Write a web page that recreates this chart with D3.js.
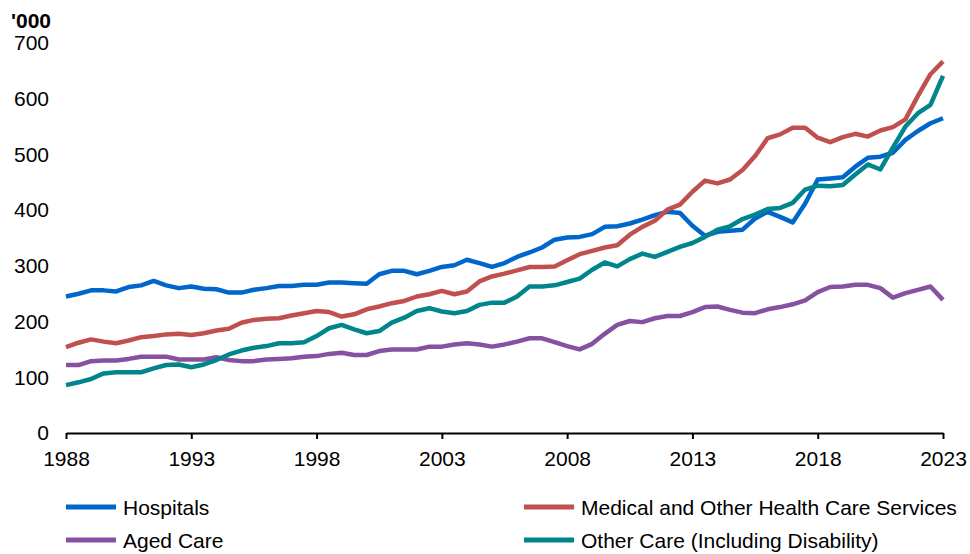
<!DOCTYPE html>
<html>
<head>
<meta charset="utf-8">
<script src="https://cdn.jsdelivr.net/npm/d3@7"></script>
<style>
  body { margin: 0; background: #fff; }
  svg { display: block; font-family: "Liberation Sans", Arial, sans-serif; }
</style>
</head>
<body>
<div id="chart"></div>
<script>
// half-yearly periods, 1988 to 2023
var periods = [1988, 1988.5, 1989, 1989.5, 1990, 1990.5, 1991, 1991.5, 1992, 1992.5,
  1993, 1993.5, 1994, 1994.5, 1995, 1995.5, 1996, 1996.5, 1997, 1997.5,
  1998, 1998.5, 1999, 1999.5, 2000, 2000.5, 2001, 2001.5, 2002, 2002.5,
  2003, 2003.5, 2004, 2004.5, 2005, 2005.5, 2006, 2006.5, 2007, 2007.5,
  2008, 2008.5, 2009, 2009.5, 2010, 2010.5, 2011, 2011.5, 2012, 2012.5,
  2013, 2013.5, 2014, 2014.5, 2015, 2015.5, 2016, 2016.5, 2017, 2017.5,
  2018, 2018.5, 2019, 2019.5, 2020, 2020.5, 2021, 2021.5, 2022, 2022.5, 2023];

var hospitals = [245, 250, 256, 256, 254, 262, 265, 273, 265, 260,
  263, 259, 258, 252, 252, 257, 260, 264, 264, 266,
  266, 270, 270, 269, 268, 285, 291, 291, 285, 291,
  298, 301, 311, 305, 298, 305, 316, 324, 333, 347,
  351, 352, 357, 370, 371, 376, 383, 391, 397, 395,
  372, 354, 361, 363, 365, 385, 397, 388, 378, 412,
  455, 457, 459, 478, 494, 496, 503, 526, 542, 556, 565];

var medical = [154, 162, 168, 164, 161, 166, 172, 174, 177, 178,
  176, 179, 184, 187, 198, 203, 205, 206, 211, 215,
  219, 217, 209, 213, 222, 227, 233, 237, 245, 249,
  255, 249, 254, 272, 281, 286, 292, 298, 298, 299,
  310, 321, 327, 333, 337, 356, 370, 381, 401, 410,
  433, 453, 448, 455, 472, 497, 529, 536, 548, 548,
  530, 522, 531, 537, 532, 543, 549, 563, 605, 644, 667];

var agedCare = [122, 122, 129, 130, 130, 133, 137, 137, 137, 132,
  132, 132, 136, 131, 129, 129, 132, 133, 134, 137,
  138, 142, 144, 140, 140, 147, 150, 150, 150, 155,
  155, 159, 161, 159, 155, 159, 164, 170, 170, 163,
  156, 150, 160, 178, 194, 201, 199, 206, 210, 210,
  217, 226, 227, 221, 216, 215, 222, 226, 231, 238,
  253, 262, 263, 266, 266, 260, 243, 251, 257, 263, 239];

var otherCare = [86, 91, 97, 107, 109, 109, 109, 116, 122, 123,
  118, 123, 131, 141, 148, 153, 156, 161, 161, 163,
  174, 188, 194, 186, 179, 183, 198, 207, 219, 224,
  218, 215, 219, 230, 234, 234, 245, 263, 263, 265,
  271, 277, 293, 306, 299, 312, 322, 316, 325, 334,
  341, 352, 365, 371, 384, 392, 402, 404, 413, 437,
  444, 443, 445, 464, 482, 473, 512, 550, 574, 589, 641];

var seriesNames = ["Hospitals", "Medical and Other Health Care Services",
  "Aged Care", "Other Care (Including Disability)"];
var seriesColors = ["#0066cc", "#c0504d", "#8651a1", "#00858c"];
var seriesValues = [hospitals, medical, agedCare, otherCare];

var xTicks = [1988, 1993, 1998, 2003, 2008, 2013, 2018, 2023];
var yTicks = [0, 100, 200, 300, 400, 500, 600, 700];

var svgWidth = 970, svgHeight = 554;
var margin = { top: 43, right: 27, bottom: 121, left: 66 };
var width = svgWidth - margin.left - margin.right;
var height = svgHeight - margin.top - margin.bottom;

var svg = d3.select("#chart").append("svg")
  .attr("width", svgWidth)
  .attr("height", svgHeight);

var chartGroup = svg.append("g")
  .attr("transform", `translate(${margin.left}, ${margin.top})`);

var xScale = d3.scaleLinear().domain([1988, 2023]).range([0, width]);
var yScale = d3.scaleLinear().domain([0, 700]).range([height, 0]);

// y axis: labels only, no line
var yAxis = d3.axisLeft(yScale).tickValues(yTicks).tickSize(0).tickPadding(17);
var yG = chartGroup.append("g").call(yAxis);
yG.select(".domain").remove();
yG.selectAll("text")
  .attr("font-size", 21)
  .attr("font-family", "'Liberation Sans', Arial, sans-serif")
  .attr("fill", "#000");

// x axis with ticks below line
var xAxis = d3.axisBottom(xScale).tickValues(xTicks).tickFormat(d3.format("d"))
  .tickSizeInner(6).tickSizeOuter(0).tickPadding(12);
var xG = chartGroup.append("g")
  .attr("transform", `translate(0, ${height})`)
  .call(xAxis);
xG.select(".domain").attr("stroke", "#000").attr("stroke-width", 2);
xG.selectAll(".tick line").attr("stroke", "#000").attr("stroke-width", 2);
xG.selectAll("text")
  .attr("font-size", 21)
  .attr("font-family", "'Liberation Sans', Arial, sans-serif")
  .attr("fill", "#000");

// unit label
svg.append("text")
  .attr("x", 51)
  .attr("y", 28)
  .attr("text-anchor", "end")
  .attr("font-size", 21)
  .attr("font-weight", "bold")
  .text("'000");

// lines
var line = d3.line()
  .x((d, i) => xScale(periods[i]))
  .y(d => yScale(d));

chartGroup.selectAll(".series")
  .data(seriesValues)
  .enter()
  .append("path")
  .attr("class", "series")
  .attr("d", d => line(d))
  .attr("fill", "none")
  .attr("stroke", (d, i) => seriesColors[i])
  .attr("stroke-width", 4.5)
  .attr("stroke-linejoin", "round");

// legend, two columns
var legendX = [66, 524];
var legendY = [507, 540];
var legend = svg.selectAll(".legend")
  .data(seriesNames)
  .enter()
  .append("g")
  .attr("class", "legend")
  .attr("transform", (d, i) => `translate(${legendX[i % 2]}, ${legendY[Math.floor(i / 2)]})`);

legend.append("line")
  .attr("x1", 0).attr("x2", 50)
  .attr("y1", 0).attr("y2", 0)
  .attr("stroke", (d, i) => seriesColors[i])
  .attr("stroke-width", 5);

legend.append("text")
  .attr("x", 57)
  .attr("y", 8)
  .attr("font-size", 21)
  .attr("fill", "#000")
  .text(d => d);
</script>
</body>
</html>
